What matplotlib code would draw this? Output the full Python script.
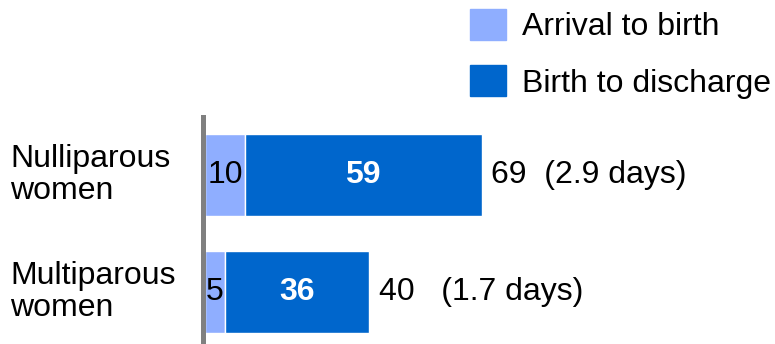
import matplotlib.pyplot as plt
import matplotlib.patches as mpatches
import matplotlib.transforms as mtransforms

plt.rcParams['font.family'] = ['Liberation Sans', 'DejaVu Sans']

groups = ['Nulliparous\nwomen', 'Multiparous\nwomen']
arrival_to_birth = [10, 5]
birth_to_discharge = [59, 36]
totals = [69, 40]
stay_days = ['(2.9 days)', '(1.7 days)']
series_names = ['Arrival to birth', 'Birth to discharge']

light = '#8FAEFF'
dark = '#0066CC'
fs = 23

fig = plt.figure(figsize=(7.75, 3.44), dpi=100)
ax = fig.add_axes([202.5 / 775, 0, 1 - 202.5 / 775, 1 - 117 / 344])

ypos = list(range(len(groups)))
ax.barh(ypos, arrival_to_birth, height=0.7, color=light, edgecolor='white', linewidth=1)
ax.barh(ypos, birth_to_discharge, left=arrival_to_birth, height=0.7, color=dark,
        edgecolor='white', linewidth=1)

for i in ypos:
    a, b = arrival_to_birth[i], birth_to_discharge[i]
    ax.text(a / 2, i, str(a), ha='center', va='center', fontsize=fs, color='black')
    ax.text(a + b / 2, i, str(b), ha='center', va='center', fontsize=fs,
            color='white', fontweight='bold')
    gap = '  ' if i == 0 else '   '
    ax.annotate(f'{totals[i]}{gap}{stay_days[i]}', (a + b, i), xytext=(7, 0),
                textcoords='offset points', ha='left', va='center', fontsize=fs)

# category labels sit at the left edge of the figure
trans = mtransforms.blended_transform_factory(fig.transFigure, ax.transData)
for i, g in enumerate(groups):
    ax.text(10 / 775, i, g, transform=trans, ha='left', va='center',
            fontsize=fs, linespacing=1.05)

ax.set_xlim(-0.6, 142.2)
ax.set_ylim(1.444, -0.496)
ax.set_xticks([])
ax.set_yticks([])
for s in ['top', 'right', 'bottom']:
    ax.spines[s].set_visible(False)
ax.spines['left'].set_color('#808080')
ax.spines['left'].set_linewidth(3.6)

handles = [mpatches.Patch(color=light), mpatches.Patch(color=dark)]
fig.legend(handles, series_names, loc='upper left', bbox_to_anchor=(470 / 775, 1 - 9 / 344),
           frameon=False, fontsize=fs, handlelength=1.12, handleheight=1.12,
           handletextpad=0.5, labelspacing=0.72, borderpad=0, borderaxespad=0)

fig.savefig('out.png', dpi=100)
